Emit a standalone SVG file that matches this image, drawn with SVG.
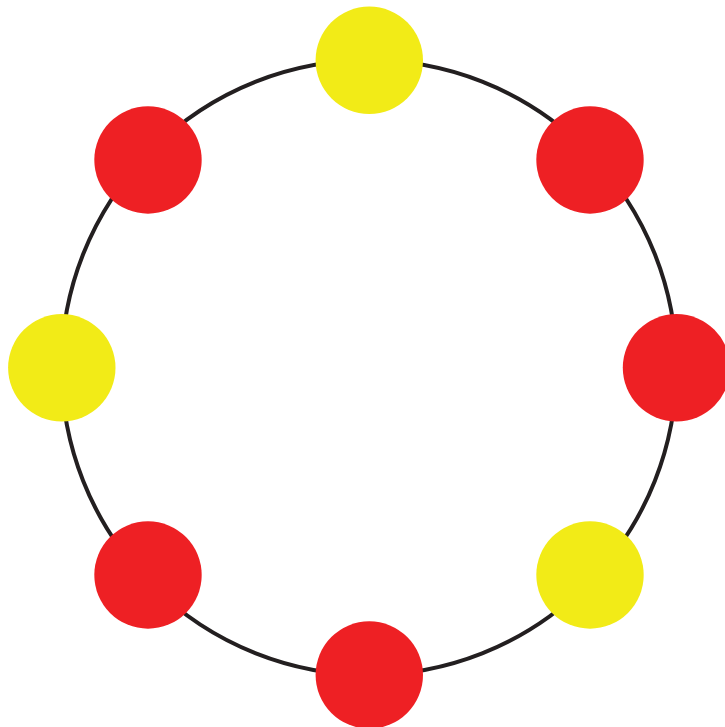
<svg xmlns="http://www.w3.org/2000/svg" width="725" height="727" viewBox="0 0 725 727">
<style>
.ring{fill:none;stroke:#231f20;stroke-width:4}
.red{fill:#ee2024}
.yellow{fill:#f2eb17}
</style>
<rect width="725" height="727" fill="#ffffff"/>
<g id="connectors">
<circle class="ring" cx="369" cy="367.5" r="307.5"/>
</g>
<g id="n1"><circle class="yellow" cx="369.3" cy="60.3" r="53.7"/></g>
<g id="n2"><circle class="red" cx="590" cy="160" r="53.7"/></g>
<g id="n3"><circle class="red" cx="676.5" cy="367.8" r="53.7"/></g>
<g id="n4"><circle class="yellow" cx="590" cy="575" r="53.7"/></g>
<g id="n5"><circle class="red" cx="369.3" cy="675" r="53.7"/></g>
<g id="n6"><circle class="red" cx="148" cy="575" r="53.7"/></g>
<g id="n7"><circle class="yellow" cx="61.8" cy="367.8" r="53.7"/></g>
<g id="n8"><circle class="red" cx="148" cy="160" r="53.7"/></g>
</svg>
